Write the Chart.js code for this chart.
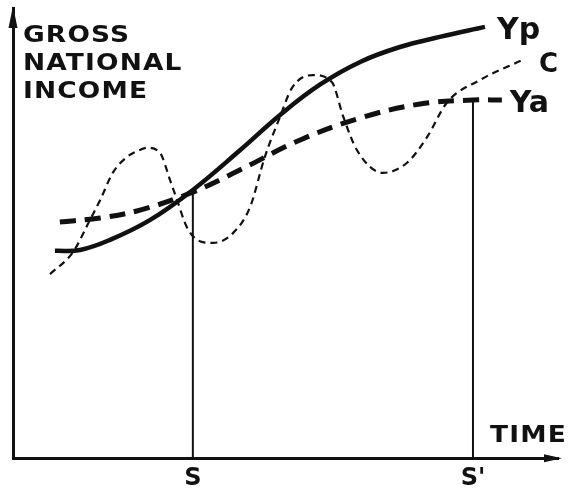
<!DOCTYPE html>
<html>
<head>
<meta charset="utf-8">
<script src="https://cdn.jsdelivr.net/npm/chart.js@4.4.1/dist/chart.umd.min.js"></script>
<style>
  html, body { margin: 0; padding: 0; background: #fff; }
</style>
</head>
<body>
<canvas id="grafico" width="571" height="492"></canvas>
<script>
// Ingreso potencial (Yp), linea continua
const ypTiempo  = [7.7, 12.3, 17.8, 25.1, 33.0, 41.7, 49.0, 56.3, 63.7, 71.0, 78.3, 86.6];
const ypIngreso = [47.3, 47.5, 49.8, 54.3, 61.2, 70.3, 78.3, 85.2, 90.4, 93.8, 96.1, 98.4];

// Ingreso efectivo (Ya), trazos largos
const yaTiempo  = [8.6, 16.0, 23.3, 33.0, 41.7, 52.7, 63.7, 74.7, 84.4, 89.7];
const yaIngreso = [53.9, 54.8, 56.6, 60.7, 65.8, 72.6, 77.6, 80.8, 81.7, 81.7];

// Ciclo (C), trazos cortos
const cTiempo  = [6.8, 11.0, 14.1, 16.0, 18.3, 20.9, 22.9, 24.6, 27.0, 28.8, 30.1, 31.9, 34.3, 36.7, 40.4, 43.5,
                  46.2, 49.0, 51.2, 55.0, 58.5, 60.6, 63.1, 67.9, 72.3, 76.0, 79.6, 85.7, 93.6];
const cIngreso = [42.0, 47.0, 54.3, 58.9, 65.1, 68.7, 70.1, 70.8, 69.6, 63.5, 58.9, 52.7, 49.5, 49.1, 51.4, 57.3,
                  68.7, 77.9, 84.5, 87.4, 85.8, 77.9, 70.3, 65.1, 67.4, 73.3, 81.1, 86.3, 90.9];

// Marcas en el eje del tiempo
const marcasTiempo    = [33.0, 84.4];
const etiquetasTiempo = ['S', "S'"];
const alturaMarcas    = [60.7, 81.7];

const tituloEje = ['GROSS', 'NATIONAL', 'INCOME'];

const puntos = (xs, ys) => xs.map((x, i) => ({ x, y: ys[i] }));
const NEGRO = '#111';

// texto ancho, como la rotulacion del original
function textoAncho(ctx, texto, x, y) {
  ctx.save();
  ctx.translate(x, y);
  ctx.scale(1.15, 1);
  ctx.fillText(texto, 0, 0);
  ctx.restore();
}

const decoracion = {
  id: 'decoracion',
  afterDraw(chart) {
    const { ctx, chartArea: a, scales: { x, y } } = chart;
    ctx.save();
    ctx.fillStyle = NEGRO;

    // flechas de los ejes
    ctx.beginPath();
    ctx.moveTo(a.left, a.top - 2);
    ctx.lineTo(a.left - 4.5, a.top + 20);
    ctx.lineTo(a.left + 4.5, a.top + 20);
    ctx.closePath();
    ctx.fill();

    ctx.beginPath();
    ctx.moveTo(a.right + 4, a.bottom);
    ctx.lineTo(a.right - 14, a.bottom - 4);
    ctx.lineTo(a.right - 14, a.bottom + 4);
    ctx.closePath();
    ctx.fill();

    // titulo del eje vertical
    ctx.font = 'bold 23px "DejaVu Sans"';
    ctx.letterSpacing = '1px';
    ctx.textBaseline = 'alphabetic';
    ctx.textAlign = 'left';
    tituloEje.forEach((t, i) => textoAncho(ctx, t, a.left + 10, 42 + i * 28));

    textoAncho(ctx, 'TIME', a.right - 68, a.bottom - 16);

    // nombres de las curvas
    ctx.letterSpacing = '0px';
    ctx.font = 'bold 30px "DejaVu Sans"';
    const fin = (xs, ys) => ({ px: x.getPixelForValue(xs[xs.length - 1]), py: y.getPixelForValue(ys[ys.length - 1]) });
    const p = fin(ypTiempo, ypIngreso);
    ctx.fillText('Yp', p.px + 12, p.py + 12);
    const q = fin(yaTiempo, yaIngreso);
    ctx.fillText('Ya', q.px + 8, q.py + 12);
    const c = fin(cTiempo, cIngreso);
    ctx.font = 'bold 26px "DejaVu Sans"';
    ctx.fillText('C', c.px + 16, c.py + 12);
    ctx.restore();
  }
};

const lineaMarca = (i) => ({
  data: [{ x: marcasTiempo[i], y: 0 }, { x: marcasTiempo[i], y: alturaMarcas[i] }],
  borderColor: NEGRO, borderWidth: 2, tension: 0
});

new Chart(document.getElementById('grafico'), {
  type: 'line',
  data: {
    datasets: [
      lineaMarca(0),
      lineaMarca(1),
      { label: 'Yp', data: puntos(ypTiempo, ypIngreso), borderColor: NEGRO, borderWidth: 4.5, tension: 0.4 },
      { label: 'Ya', data: puntos(yaTiempo, yaIngreso), borderColor: NEGRO, borderWidth: 5, borderDash: [16, 9], tension: 0.4 },
      { label: 'C', data: puntos(cTiempo, cIngreso), borderColor: NEGRO, borderWidth: 2.2, borderDash: [7, 5],
        cubicInterpolationMode: 'monotone' }
    ]
  },
  options: {
    responsive: false,
    animation: false,
    devicePixelRatio: 1,
    layout: { padding: { left: 13, right: 13, top: 8, bottom: -7 } },
    elements: { point: { radius: 0 } },
    plugins: { legend: { display: false }, tooltip: { enabled: false } },
    scales: {
      x: {
        type: 'linear', min: 0, max: 100,
        grid: { display: false, drawTicks: false },
        border: { display: true, color: NEGRO, width: 3 },
        afterBuildTicks: (eje) => { eje.ticks = marcasTiempo.map(v => ({ value: v })); },
        ticks: {
          autoSkip: false, maxRotation: 0, padding: 6, color: NEGRO,
          font: { family: 'DejaVu Sans', size: 24, weight: 'bold', lineHeight: 1.2 },
          callback: (v, i) => etiquetasTiempo[i]
        }
      },
      y: {
        type: 'linear', min: 0, max: 102.7,
        grid: { display: false, drawTicks: false },
        border: { display: true, color: NEGRO, width: 3 },
        ticks: { display: false }
      }
    }
  },
  plugins: [decoracion]
});
</script>
</body>
</html>
